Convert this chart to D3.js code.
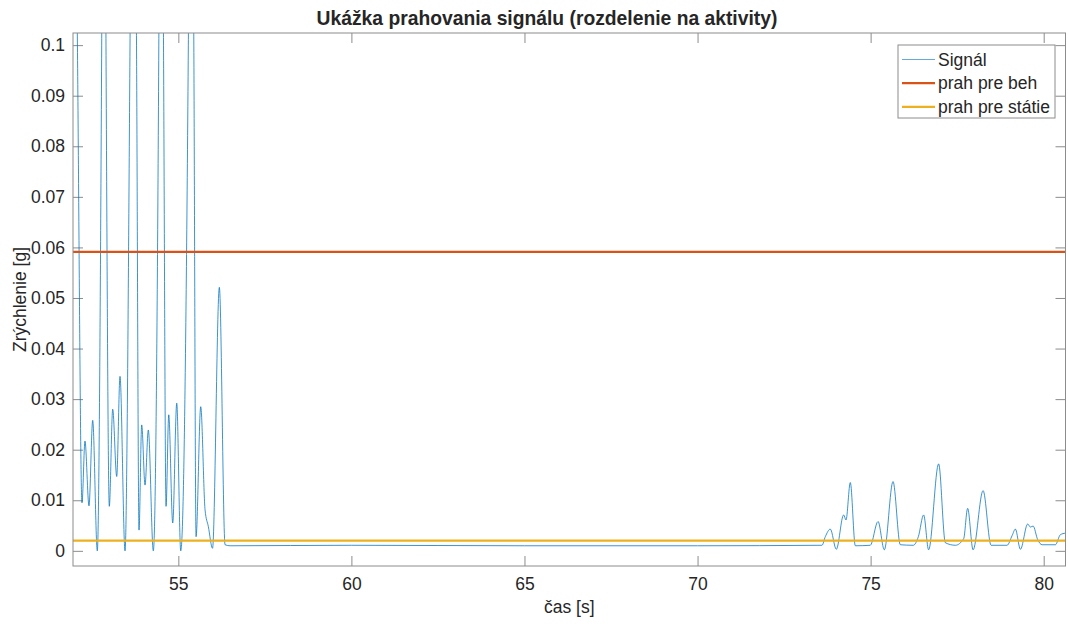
<!DOCTYPE html>
<html>
<head>
<meta charset="utf-8">
<script src="https://cdn.jsdelivr.net/npm/d3@7"></script>
<style>
  body { margin: 0; background: #fff; }
  text { font-family: 'Liberation Sans', Arial, Helvetica, sans-serif; fill: #262626; }
</style>
</head>
<body>
<div id="chart"></div>
<script>
const width = 1068
const height = 624
const margin = { top: 33, right: 2.5, bottom: 58, left: 73 }

// signal: time [s] and acceleration [g]
const signalTime = [
  51.95, 52.085, 52.217, 52.303, 52.419, 52.526, 52.659, 52.786, 52.85, 52.91,
  53.006, 53.104, 53.22, 53.315, 53.46, 53.604, 53.691, 53.792, 53.864, 53.942,
  54.038, 54.133, 54.277, 54.436, 54.5, 54.572, 54.645, 54.723, 54.838, 54.954,
  55.069, 55.289, 55.367, 55.448, 55.512, 55.647, 55.772, 55.867, 55.988, 56.185,
  56.35, 56.494, 60, 65, 70, 73.595, 73.691, 73.835, 74.009, 74.22,
  74.289, 74.413, 74.558, 74.991, 75.214, 75.396, 75.647, 75.858, 76.234, 76.379,
  76.532, 76.676, 76.965, 77.159, 77.448, 77.688, 77.803, 77.96, 78.249, 78.48,
  78.942, 79.087, 79.182, 79.327, 79.538, 79.616, 79.694, 79.827, 79.954, 80.338,
  80.483, 80.63
]
const signalValue = [
  0.2, 0.1, 0.0095, 0.0217, 0.0089, 0.0258, 0.0, 0.1, 0.2, 0.1,
  0.0088, 0.028, 0.0147, 0.0345, 0.0, 0.1, 0.2, 0.1, 0.0041, 0.0249,
  0.013, 0.0239, 0.0, 0.1, 0.2, 0.1, 0.0088, 0.0269, 0.0055, 0.0292,
  0.0, 0.1, 0.2, 0.1, 0.0028, 0.0285, 0.0081, 0.0048, 0.0005, 0.0521,
  0.0012, 0.001, 0.0011, 0.001, 0.001, 0.0011, 0.0028, 0.0043, 0.0003, 0.0071,
  0.0061, 0.0135, 0.001, 0.0011, 0.0058, 0.0002, 0.0137, 0.0012, 0.0011, 0.0028,
  0.0071, 0.0002, 0.0172, 0.0016, 0.0011, 0.0024, 0.0084, 0.0002, 0.0119, 0.0011,
  0.0011, 0.003, 0.0043, 0.0003, 0.0053, 0.0047, 0.0049, 0.0022, 0.0012, 0.0012,
  0.0032, 0.0035
]
const thresholdRun = 0.0591
const thresholdStand = 0.002

const xTicks = [55, 60, 65, 70, 75, 80]
const yTicks = [0, 0.01, 0.02, 0.03, 0.04, 0.05, 0.06, 0.07, 0.08, 0.09, 0.1]
const xDomain = [51.957, 80.63]
const yDomain = [-0.003, 0.1024]

const legendLabels = ['Signál', 'prah pre beh', 'prah pre státie']
const colors = ['#0072BD', '#D95319', '#EDB120']

const innerW = width - margin.left - margin.right
const innerH = height - margin.top - margin.bottom

const svg = d3.select('#chart').append('svg').attr('width', width).attr('height', height)

svg.append('defs').append('clipPath').attr('id', 'plot-clip')
  .append('rect').attr('width', innerW).attr('height', innerH)

const g = svg.append('g').attr('transform', `translate(${margin.left}, ${margin.top})`)

const x = d3.scaleLinear().domain(xDomain).range([0, innerW])
const y = d3.scaleLinear().domain(yDomain).range([innerH, 0])

const yFormat = d => d === 0 ? '0' : d3.format('.2~f')(d)

// axes, ticks pointing inwards like matlab
const xAxisGroup = g.append('g').attr('transform', `translate(0, ${innerH})`)
  .call(d3.axisBottom(x).tickValues(xTicks).tickSizeInner(-10).tickSizeOuter(0).tickPadding(12))
const xTopGroup = g.append('g')
  .call(d3.axisTop(x).tickValues(xTicks).tickSizeInner(-10).tickSizeOuter(0).tickFormat(''))
const yAxisGroup = g.append('g')
  .call(d3.axisLeft(y).tickValues(yTicks).tickFormat(yFormat).tickSizeInner(-10).tickSizeOuter(0).tickPadding(8))
const yRightGroup = g.append('g').attr('transform', `translate(${innerW}, 0)`)
  .call(d3.axisRight(y).tickValues(yTicks).tickSizeInner(-10).tickSizeOuter(0).tickFormat(''))

g.selectAll('.domain').remove()
g.selectAll('.tick line').attr('stroke', '#8c8c8c').attr('stroke-width', 1)
g.selectAll('.tick text').attr('font-size', 17.5).attr('fill', '#262626')
  .attr('font-family', "'Liberation Sans', Arial, sans-serif")

const plot = g.append('g').attr('clip-path', 'url(#plot-clip)')

const signal = signalTime.map((t, i) => ({ t: t, v: signalValue[i] }))
const line = d3.line().x(d => x(d.t)).y(d => y(d.v)).curve(d3.curveMonotoneX)

plot.append('path').datum(signal)
  .attr('d', line)
  .attr('fill', 'none')
  .attr('stroke', colors[0])
  .attr('stroke-opacity', 0.85)
  .attr('stroke-width', 0.9)

const thresholds = [thresholdRun, thresholdStand]
plot.selectAll('.threshold').data(thresholds).enter().append('line')
  .attr('class', 'threshold')
  .attr('x1', 0).attr('x2', innerW)
  .attr('y1', d => y(d)).attr('y2', d => y(d))
  .attr('stroke', (d, i) => colors[i + 1])
  .attr('stroke-width', 2.2)

// box
g.append('rect').attr('width', innerW).attr('height', innerH)
  .attr('fill', 'none').attr('stroke', '#8c8c8c').attr('stroke-width', 1)

// labels
svg.append('text').attr('x', 547).attr('y', 25)
  .attr('text-anchor', 'middle').attr('font-weight', 'bold').attr('font-size', 19.3)
  .text('Ukážka prahovania signálu (rozdelenie na aktivity)')
svg.append('text').attr('x', margin.left + innerW / 2).attr('y', 613)
  .attr('text-anchor', 'middle').attr('font-size', 17.5)
  .text('čas [s]')
svg.append('text')
  .attr('transform', `translate(26, ${margin.top + innerH / 2}) rotate(-90)`)
  .attr('text-anchor', 'middle').attr('font-size', 17.5)
  .text('Zrýchlenie [g]')

// legend
const legend = svg.append('g').attr('transform', 'translate(898, 45)')
legend.append('rect').attr('width', 157).attr('height', 73)
  .attr('fill', '#fff').attr('stroke', '#8c8c8c').attr('stroke-width', 1)
const items = legend.selectAll('.item').data(legendLabels).enter().append('g')
  .attr('class', 'item')
  .attr('transform', (d, i) => `translate(0, ${14.5 + i * 23.7})`)
items.append('line').attr('x1', 4).attr('x2', 37)
  .attr('stroke', (d, i) => colors[i])
  .attr('stroke-width', (d, i) => i === 0 ? 1 : 2.2)
  .attr('stroke-opacity', (d, i) => i === 0 ? 0.6 : 1)
items.append('text').attr('x', 40).attr('dy', '0.35em').attr('font-size', 17.5).text(d => d)
</script>
</body>
</html>
